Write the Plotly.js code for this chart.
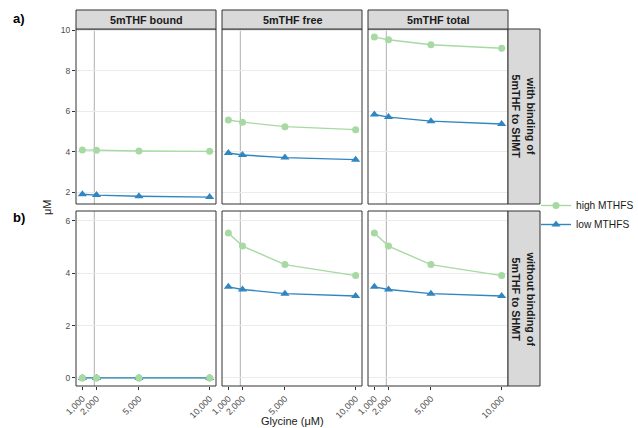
<!DOCTYPE html>
<html>
<head>
<meta charset="utf-8">
<script src="https://cdn.plot.ly/plotly-3.0.1.min.js"></script>
<style>html,body{margin:0;padding:0;background:#fff;}#chart{width:638px;height:428px;}</style>
</head>
<body>
<div id="chart"></div>
<script>
// ---- data ----
const glycine = [1000, 2000, 5000, 10000];
const glycineTickText = ["1,000", "2,000", "5,000", "10,000"];
const refGlycine = 1850;
const columns = ["5mTHF bound", "5mTHF free", "5mTHF total"];
const rows = ["with binding of<br>5mTHF to SHMT", "without binding of<br>5mTHF to SHMT"];
const seriesNames = ["high MTHFS", "low MTHFS"];

const withBoundHigh = [4.09, 4.07, 4.04, 4.02];
const withBoundLow  = [1.90, 1.86, 1.80, 1.76];
const withFreeHigh  = [5.57, 5.46, 5.24, 5.09];
const withFreeLow   = [3.94, 3.84, 3.71, 3.61];
const withTotalHigh = [9.66, 9.53, 9.28, 9.11];
const withTotalLow  = [5.84, 5.71, 5.51, 5.37];

const withoutBoundHigh = [0, 0, 0, 0];
const withoutBoundLow  = [0, 0, 0, 0];
const withoutFreeHigh  = [5.54, 5.04, 4.33, 3.91];
const withoutFreeLow   = [3.48, 3.38, 3.22, 3.13];
const withoutTotalHigh = [5.54, 5.04, 4.33, 3.91];
const withoutTotalLow  = [3.48, 3.38, 3.22, 3.13];

const yTicksTop = [2, 4, 6, 8, 10];
const yTicksBottom = [0, 2, 4, 6];

// ---- layout geometry ----
const W = 638, H = 428;
const colPx = [[76, 216], [222, 362], [368, 508]];
const rowPx = [[29, 204], [211, 386]];
const stripTop = [10, 29];
const stripRight = [508, 540];
const fx = p => p / W;
const fy = p => 1 - p / H;

const green = "#a6daa2";
const blue = "#2f86c0";
const font = "Liberation Sans, Arial, Helvetica, sans-serif";

const panelData = [
  [[withBoundHigh, withBoundLow], [withFreeHigh, withFreeLow], [withTotalHigh, withTotalLow]],
  [[withoutBoundHigh, withoutBoundLow], [withoutFreeHigh, withoutFreeLow], [withoutTotalHigh, withoutTotalLow]]
];

const traces = [];
const layout = {
  width: W, height: H,
  margin: {l: 0, r: 0, t: 0, b: 0, autoexpand: false},
  paper_bgcolor: "#fff", plot_bgcolor: "#fff",
  font: {family: font, color: "#1a1a1a"},
  showlegend: true,
  legend: {x: fx(536), xanchor: "left", y: fy(215), yanchor: "middle",
           font: {size: 10.2, family: font, color: "#1a1a1a"}, itemwidth: 30,
           tracegroupgap: 0, bgcolor: "rgba(0,0,0,0)"},
  shapes: [], annotations: []
};

for (let r = 0; r < 2; r++) {
  for (let c = 0; c < 3; c++) {
    const n = r * 3 + c + 1;
    const xa = n === 1 ? "x" : "x" + n;
    const ya = n === 1 ? "y" : "y" + n;
    const [hi, lo] = panelData[r][c];
    const first = (n === 1);
    traces.push({x: glycine, y: hi, xaxis: xa, yaxis: ya, type: "scatter", mode: "lines+markers",
      name: seriesNames[0], legendgroup: "hi", showlegend: first, legendrank: 1,
      line: {color: green, width: 1.4}, marker: {color: green, size: 7, symbol: "circle"}});
    traces.push({x: glycine, y: lo, xaxis: xa, yaxis: ya, type: "scatter", mode: "lines+markers",
      name: seriesNames[1], legendgroup: "lo", showlegend: first, legendrank: 2,
      line: {color: blue, width: 1.4}, marker: {color: blue, size: 8, symbol: "triangle-up"}});
    if (r === 1 && c === 0) {
      traces.push({x: glycine, y: hi, xaxis: xa, yaxis: ya, type: "scatter", mode: "markers",
        name: seriesNames[0], legendgroup: "hi", showlegend: false,
        marker: {color: green, size: 7, symbol: "circle"}});
    }
    const xKey = n === 1 ? "xaxis" : "xaxis" + n;
    const yKey = n === 1 ? "yaxis" : "yaxis" + n;
    layout[xKey] = {
      domain: [fx(colPx[c][0]), fx(colPx[c][1])], anchor: ya,
      range: [550, 10450], showgrid: false, zeroline: false, showline: false,
      tickvals: glycine, ticktext: glycineTickText,
      showticklabels: r === 1, ticks: r === 1 ? "outside" : "", ticklen: 3, tickcolor: "#333",
      tickwidth: 1, tickangle: -45, tickfont: {size: 9, color: "#4d4d4d", family: font}
    };
    layout[yKey] = {
      domain: [fy(rowPx[r][1]), fy(rowPx[r][0])], anchor: xa,
      range: r === 0 ? [1.42, 10.06] : [-0.31, 6.38],
      tickvals: r === 0 ? yTicksTop : yTicksBottom,
      showgrid: true, gridcolor: "#ebebeb", gridwidth: 1, zeroline: false, showline: false,
      showticklabels: c === 0, ticks: c === 0 ? "outside" : "", ticklen: 3, tickcolor: "#333",
      tickwidth: 1, tickfont: {size: 8.5, color: "#4d4d4d", family: font}
    };
    // reference vertical line
    layout.shapes.push({type: "line", xref: xa, yref: ya + " domain", x0: refGlycine, x1: refGlycine,
      y0: 0, y1: 1, line: {color: "#bdbdbd", width: 1.2}, layer: "below"});
    // panel border
    layout.shapes.push({type: "rect", xref: "paper", yref: "paper",
      x0: fx(colPx[c][0]), x1: fx(colPx[c][1]), y0: fy(rowPx[r][1]), y1: fy(rowPx[r][0]),
      line: {color: "#333", width: 1}, fillcolor: "rgba(0,0,0,0)", layer: "above"});
  }
}

// column strips
for (let c = 0; c < 3; c++) {
  layout.shapes.push({type: "rect", xref: "paper", yref: "paper",
    x0: fx(colPx[c][0]), x1: fx(colPx[c][1]), y0: fy(stripTop[1]), y1: fy(stripTop[0]),
    line: {color: "#333", width: 1}, fillcolor: "#d9d9d9"});
  layout.annotations.push({xref: "paper", yref: "paper", showarrow: false,
    x: fx((colPx[c][0] + colPx[c][1]) / 2), y: fy((stripTop[0] + stripTop[1]) / 2),
    text: "<b>" + columns[c] + "</b>", font: {size: 10.8, color: "#1a1a1a", family: font},
    xanchor: "center", yanchor: "middle"});
}
// row strips
for (let r = 0; r < 2; r++) {
  layout.shapes.push({type: "rect", xref: "paper", yref: "paper",
    x0: fx(stripRight[0]), x1: fx(stripRight[1]), y0: fy(rowPx[r][1]), y1: fy(rowPx[r][0]),
    line: {color: "#333", width: 1}, fillcolor: "#d9d9d9"});
  layout.annotations.push({xref: "paper", yref: "paper", showarrow: false,
    x: fx((stripRight[0] + stripRight[1]) / 2), y: fy((rowPx[r][0] + rowPx[r][1]) / 2),
    text: "<b>" + rows[r] + "</b>", textangle: 90, font: {size: 10.8, color: "#1a1a1a", family: font},
    xanchor: "center", yanchor: "middle"});
}

// axis titles and panel tags
layout.annotations.push({xref: "paper", yref: "paper", showarrow: false,
  x: fx(292), y: fy(421), text: "Glycine (μM)", font: {size: 11, color: "#1a1a1a", family: font},
  xanchor: "center", yanchor: "middle"});
layout.annotations.push({xref: "paper", yref: "paper", showarrow: false,
  x: fx(47), y: fy(207), text: "μM", textangle: -90, font: {size: 11, color: "#1a1a1a", family: font},
  xanchor: "center", yanchor: "middle"});
layout.annotations.push({xref: "paper", yref: "paper", showarrow: false,
  x: fx(11), y: fy(19), text: "<b>a)</b>", font: {size: 13, color: "#000", family: font},
  xanchor: "left", yanchor: "middle"});
layout.annotations.push({xref: "paper", yref: "paper", showarrow: false,
  x: fx(11), y: fy(217), text: "<b>b)</b>", font: {size: 13, color: "#000", family: font},
  xanchor: "left", yanchor: "middle"});

Plotly.newPlot("chart", traces, layout, {staticPlot: true, displayModeBar: false});
</script>
</body>
</html>
